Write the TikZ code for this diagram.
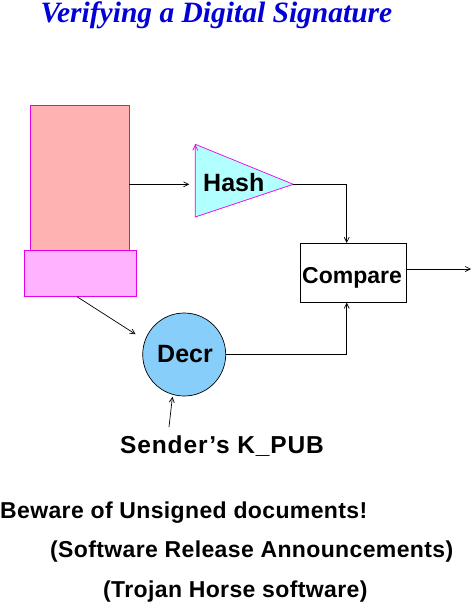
\documentclass[tikz,border=0pt]{standalone}
\usepackage{fontspec}
\newfontfamily\helv{Liberation Sans}
\newfontfamily\helvsp[LetterSpace=1.6]{Liberation Sans}
\newfontfamily\helvwide[LetterSpace=3.5]{Liberation Sans}
\newfontfamily\romfont{Liberation Serif}
\usetikzlibrary{positioning,arrows.meta}
\definecolor{docpink}{RGB}{255,178,178}
\definecolor{sigpink}{RGB}{255,178,255}
\definecolor{hashcyan}{RGB}{178,255,255}
\definecolor{decrblue}{RGB}{135,206,250}
\definecolor{edgemag}{RGB}{230,0,230}
\definecolor{titleblue}{RGB}{0,0,215}
\begin{document}
\begin{tikzpicture}[x=1pt,y=-1pt,
    arr/.style={-{Straight Barb[length=5pt,width=5pt]}, line width=0.7pt},
    lbl/.style={inner sep=0pt, anchor=base west, font=\helv\bfseries\fontsize{24}{28}\selectfont},
    note/.style={inner sep=0pt, anchor=base west, font=\helvsp\bfseries\fontsize{23}{27}\selectfont}]
    \useasboundingbox (0,0) rectangle (472,611);

    % Title
    \node[inner sep=0pt, anchor=base, text=titleblue,
          font=\romfont\bfseries\itshape\fontsize{29.5}{33}\selectfont] (title) at (216.5,22)
        {Verifying a Digital Signature};

    % Signed document: body and attached signature
    \draw[edgemag, line width=0.7pt, fill=docpink] (30,105) rectangle (129.3,250.7);
    \draw[edgemag, line width=0.7pt, fill=sigpink] (24,250.7) rectangle (136.7,296.7);
    \coordinate (docout) at (129.3,184.3);
    \coordinate (sigout) at (77,296.7);

    % Hash triangle
    \coordinate (hashin) at (195.3,184.3);
    \coordinate (hashout) at (293.3,184.3);
    \draw[edgemag, line width=0.7pt, fill=hashcyan, -{Straight Barb[length=5pt,width=5pt]}]
        (195.3,217) -- (hashout) -- (195.3,144.3) -- (195.3,217) -- (195.3,144.6);
    \node[lbl, font=\helv\bfseries\fontsize{25}{29}\selectfont] (hash) at (203,191) {Hash};

    % Compare box
    \node[draw, line width=0.7pt, minimum width=106.7pt, minimum height=59pt, inner sep=0pt] (cmp)
        at (353.3,272.8) {};
    \node[lbl, font=\helv\bfseries\fontsize{23}{27}\selectfont] (cmptext) at (302,283) {Compare};
    \coordinate (out) at (471,269);

    % Decryption circle
    \node[circle, draw, line width=0.7pt, fill=decrblue, minimum size=83pt, inner sep=0pt] (decr)
        at (184.2,354.5) {};
    \node[lbl, font=\helv\bfseries\fontsize{25}{29}\selectfont] (decrtext) at (157,362) {Decr};

    % Public key of the sender
    \node[lbl, font=\helvwide\bfseries\fontsize{24.5}{28}\selectfont] (kpub) at (120,453) {Sender’s K\_PUB};
    \coordinate (kpubout) at (169,427);

    % Arrows
    \draw[arr, shorten >=6pt] (docout) -- (hashin);
    \draw[arr] (hashout) -| ([xshift=-6.6pt]cmp.north);
    \draw[arr] (decr.east) -| ([xshift=-6.6pt]cmp.south);
    \draw[arr] ([yshift=3.8pt]cmp.east) -- (out);
    \draw[arr, shorten >=11pt] (sigout) -- (decr.160);
    \draw[arr, shorten >=2pt] (kpubout) -- (decr.254);

    % Warnings
    \node[note] (beware) at (0,518) {Beware of Unsigned documents!};
    \node[note] (release) at (50,557) {(Software Release Announcements)};
    \node[note] (trojan) at (103,597) {(Trojan Horse software)};
\end{tikzpicture}
\end{document}
